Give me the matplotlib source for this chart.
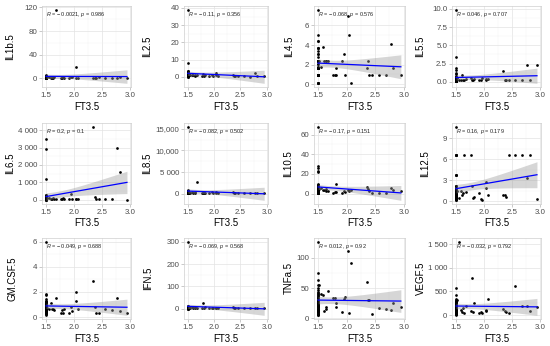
import numpy as np
import matplotlib.pyplot as plt

plt.rcParams['font.family'] = ['Liberation Sans', 'DejaVu Sans']
plt.rcParams['mathtext.fontset'] = 'custom'
plt.rcParams['mathtext.rm'] = 'Liberation Sans'
plt.rcParams['mathtext.it'] = 'Liberation Sans:italic'

# FT3 values (shared by all panels): 44 samples at the minimum, then the rest
ft3 = [1.5, 1.5, 1.5, 1.5, 1.5, 1.5, 1.5, 1.5, 1.5, 1.5, 1.5,
       1.5, 1.5, 1.5, 1.5, 1.5, 1.5, 1.5, 1.5, 1.5, 1.5, 1.5,
       1.5, 1.5, 1.5, 1.5, 1.5, 1.5, 1.5, 1.5, 1.5, 1.5, 1.5,
       1.5, 1.5, 1.5, 1.5, 1.5, 1.5, 1.5, 1.5, 1.5, 1.5, 1.5,
       1.52, 1.55, 1.58, 1.6, 1.63, 1.64, 1.68, 1.76, 1.79, 1.81, 1.82, 1.91, 1.95,
       1.97, 2.03, 2.04, 2.07, 2.35, 2.38, 2.39, 2.45, 2.56, 2.69, 2.78, 2.82, 2.95]

il1b = [0.5, 1.0, 1.5, 2.0, 2.5, 3.0, 4.0, 5.0, 0.2, 0.8, 1.2,
        2.2, 3.5, 1.0, 0.5, 2.0, 1.5, 0.3, 0.7, 1.8, 4.5, 2.8,
        0.4, 1.1, 1.6, 0.9, 2.4, 0.6, 1.3, 3.2, 0.2, 1.9, 0.8,
        1.4, 2.6, 0.5, 1.0, 0.3, 2.1, 1.7, 0.6, 1.2, 3.8, 0.9,
        2.0, 3.0, 1.0, 1.0, 0.5, 2.0, 116.0, 1.0, 0.5, 2.0, 1.0, 0.5, 2.0,
        3.0, 20.0, 1.0, 1.0, 1.0, 0.5, 1.0, 2.0, 1.0, 1.0, 1.0, 2.0, 0.5]
il2 = [39.0, 8.0, 3.5, 3.0, 2.5, 2.0, 1.8, 1.5, 1.2, 1.0, 0.8,
       0.5, 0.3, 2.2, 1.6, 1.1, 0.7, 0.4, 2.8, 1.9, 1.3, 0.9,
       0.6, 0.2, 1.4, 1.0, 3.2, 0.5, 1.7, 0.8, 1.2, 0.3, 2.4,
       1.0, 0.6, 1.5, 0.4, 0.9, 2.0, 1.1, 0.7, 1.3, 0.2, 0.8,
       1.5, 1.0, 1.2, 1.0, 0.8, 1.2, 1.0, 0.5, 1.5, 0.5, 1.0, 0.8, 1.2,
       0.5, 2.5, 1.0, 0.5, 1.0, 0.8, 0.5, 0.3, 0.5, 0.2, 2.5, 0.5, 0.5]
il4 = [7.6, 5.0, 4.4, 4.4, 3.7, 3.7, 3.4, 3.1, 3.1, 2.8, 2.4,
       2.4, 2.4, 2.4, 2.4, 2.1, 2.1, 1.8, 1.8, 1.7, 1.7, 1.7,
       1.7, 1.7, 0.9, 0.9, 0.9, 0.9, 0.9, 0.9, 0.9, 0.9, 0.1,
       0.1, 0.1, 0.1, 1.7, 2.4, 0.9, 1.7, 2.4, 3.7, 1.7, 0.9,
       2.4, 1.8, 3.8, 2.4, 2.4, 2.4, 2.4, 0.9, 0.9, 0.9, 1.7, 2.4, 3.1,
       0.9, 7.0, 5.0, 0.1, 1.7, 2.4, 0.9, 0.9, 0.9, 0.9, 4.1, 1.7, 0.9]
il5 = [9.9, 3.4, 1.9, 1.6, 1.2, 1.0, 0.8, 0.6, 0.5, 0.4, 0.3,
       0.2, 0.1, 0.3, 0.2, 0.4, 0.1, 0.2, 0.3, 0.1, 0.2, 0.5,
       0.1, 0.2, 0.3, 0.2, 0.1, 0.4, 0.2, 0.1, 0.3, 0.2, 0.1,
       0.2, 0.6, 0.1, 0.2, 0.3, 0.1, 0.2, 0.4, 0.1, 0.2, 0.3,
       0.5, 0.3, 0.2, 0.9, 0.3, 0.2, 0.4, 0.5, 0.3, 0.2, 0.4, 0.3, 0.2,
       0.5, 0.3, 0.4, 0.4, 1.5, 0.3, 0.2, 0.3, 0.2, 0.2, 2.3, 0.2, 2.3]
il6 = [3500, 2900, 1200, 300, 250, 200, 180, 150, 120, 100, 90,
       80, 60, 50, 40, 30, 20, 10, 150, 120, 80, 60,
       40, 30, 20, 10, 200, 100, 50, 30, 70, 90, 110,
       40, 20, 60, 130, 80, 50, 30, 10, 70, 40, 20,
       100, 80, 60, 50, 90, 40, 70, 60, 30, 80, 50, 40, 350,
       30, 60, 40, 50, 4200, 150, 40, 30, 20, 50, 2950, 1600, 10]
il8 = [15500, 800, 700, 600, 500, 450, 400, 350, 300, 300, 250,
       250, 200, 200, 150, 150, 100, 100, 50, 50, 400, 350,
       300, 250, 200, 150, 100, 600, 500, 300, 200, 100, 250,
       350, 150, 450, 200, 100, 300, 250, 50, 150, 200, 100,
       300, 200, 400, 250, 150, 300, 2800, 100, 200, 150, 250, 100, 300,
       150, 200, 350, 100, 400, 150, 250, 100, 150, 100, 200, 150, 50]
il10 = [68, 28, 26, 23, 22, 10, 9, 8, 7, 6, 5,
        4, 3, 2, 1, 0.5, 8, 6, 4, 3, 2, 1,
        7, 5, 3, 2, 1, 9, 6, 4, 2, 0.5, 5,
        3, 1, 7, 4, 2, 6, 3, 1, 5, 2, 4,
        5, 6, 4, 3.5, 4.5, 3, 2.4, 1, 1.5, 2, 9.4, 1, 2.4,
        1.5, 3.5, 3, 3.5, 6.5, 4.5, 2.4, 1, 1, 1, 6, 3.5, 2.4]
il12 = [10.7, 6.6, 6.6, 6.6, 6.6, 3.8, 3.8, 3.8, 2.1, 2.1, 2.1,
        1.9, 1.7, 1.5, 1.3, 1.1, 1.0, 0.9, 0.8, 0.7, 0.6, 0.5,
        0.4, 0.3, 0.2, 0.1, 1.2, 0.9, 0.6, 0.4, 1.4, 0.8, 0.5,
        0.3, 1.0, 0.7, 1.6, 0.4, 0.9, 0.6, 1.1, 0.5, 0.8, 1.0,
        1.4, 0.5, 1.4, 0.8, 1.1, 6.6, 1.25, 6.6, 2.1, 0.4, 0.6, 1.1, 0.3,
        0.15, 2.8, 1.9, 0.85, 0.85, 0.85, 0.6, 6.6, 6.6, 6.6, 3.3, 6.6, 0.3]
gmcsf = [6.0, 1.85, 1.75, 1.4, 1.3, 1.2, 1.1, 1.0, 0.9, 0.8, 0.7,
         0.6, 0.5, 0.4, 0.3, 0.2, 1.25, 1.15, 1.05, 0.95, 0.85, 0.75,
         0.65, 0.55, 0.45, 0.35, 0.25, 1.0, 0.8, 0.6, 0.4, 0.9, 0.7,
         0.5, 0.3, 1.1, 0.6, 0.8, 0.4, 1.2, 0.7, 0.5, 0.9, 0.3,
         0.7, 0.6, 1.1, 0.6, 0.63, 0.58, 1.5, 0.3, 0.58, 0.3, 0.63, 0.3, 0.8,
         0.45, 2.0, 1.3, 0.65, 2.9, 0.8, 0.3, 0.35, 0.65, 0.55, 1.5, 0.45, 0.3]
ifn = [300, 15, 12, 10, 9, 8, 7, 6, 5, 4, 3,
       2, 1, 8, 6, 4, 2, 10, 7, 5, 3, 1,
       6, 4, 2, 9, 5, 3, 7, 4, 2, 6, 8,
       3, 5, 1, 4, 6, 2, 5, 3, 7, 4, 2,
       8, 5, 10, 6, 8, 4, 6, 5, 27, 4, 8, 3, 6,
       4, 5, 6, 3, 8, 4, 3, 2, 3, 2, 6, 3, 2]
tnfa = [127, 75, 64, 55, 50, 47, 44, 40, 37, 34, 31,
        28, 25, 22, 20, 18, 16, 14, 12, 10, 8, 6,
        5, 30, 26, 24, 19, 15, 11, 9, 35, 27, 21,
        17, 13, 7, 33, 23, 29, 38, 42, 12, 20, 16,
        56, 40, 38, 12, 15, 19, 45, 33, 33, 25, 19, 11, 32,
        35, 111, 9, 92, 60, 31, 30, 8, 17, 16, 13, 26, 18]
vegf = [580, 430, 350, 320, 300, 280, 260, 240, 220, 200, 180,
        160, 140, 120, 100, 80, 60, 40, 20, 10, 300, 250,
        200, 150, 100, 50, 30, 270, 190, 130, 90, 70, 110,
        210, 170, 60, 140, 80, 230, 120, 50, 90, 160, 30,
        320, 1550, 100, 70, 140, 50, 190, 85, 780, 70, 260, 50, 70,
        40, 100, 90, 350, 120, 85, 60, 50, 620, 190, 190, 90, 180]

names = ['IL1b.5', 'IL2.5', 'IL4.5', 'IL5.5', 'IL6.5', 'IL8.5',
         'IL10.5', 'IL12.5', 'GM.CSF.5', 'IFN.5', 'TNFa.5', 'VEGF.5']
series = [il1b, il2, il4, il5, il6, il8, il10, il12, gmcsf, ifn, tnfa, vegf]
stats = ['R = − 0.0021, p = 0.986', 'R = − 0.11, p = 0.356', 'R = − 0.068, p = 0.576',
         'R = 0.046, p = 0.707', 'R = 0.2, p = 0.1', 'R = − 0.082, p = 0.502',
         'R = − 0.17, p = 0.151', 'R = 0.16, p = 0.179', 'R = − 0.049, p = 0.688',
         'R = − 0.069, p = 0.568', 'R = 0.012, p = 0.92', 'R = − 0.032, p = 0.792']
yticks = [[0, 40, 80, 120], [0, 10, 20, 30, 40], [0, 2, 4, 6], [0, 2.5, 5, 7.5, 10],
          [0, 1000, 2000, 3000, 4000], [0, 5000, 10000, 15000], [0, 20, 40, 60], [0, 3, 6, 9],
          [0, 2, 4, 6], [0, 100, 200, 300], [0, 50, 100], [0, 500, 1000, 1500]]
ytick_labels = [['0', '40', '80', '120'], ['0', '10', '20', '30', '40'], ['0', '2', '4', '6'],
                ['0.0', '2.5', '5.0', '7.5', '10.0'],
                ['0', '1 000', '2 000', '3 000', '4 000'], ['0', '5 000', '10,000', '15,000'],
                ['0', '20', '40', '60'], ['0', '3', '6', '9'], ['0', '2', '4', '6'],
                ['0', '100', '200', '300'], ['0', '50', '100'], ['0', '500', '1 000', '1 500']]
xticks = [1.5, 2.0, 2.5, 3.0]
xtick_labels = ['1.5', '2.0', '2.5', '3.0']

T975 = 1.995  # t quantile, df = 68

# layout in pixels
W, H = 550, 346
rows = [(6, 87, 107), (123, 204, 223), (238, 319, 339)]   # top, bottom, xlabel y
cols = [(42, 131), (184, 268), (314, 405), (452, 541)]
ylab_x = [10, 147, 289, 420, 10, 147, 288, 425, 13, 148, 289, 421]

fig = plt.figure(figsize=(W / 100, H / 100), dpi=100)
x = np.array(ft3, dtype=float)

for i, (name, yv) in enumerate(zip(names, series)):
    y = np.array(yv, dtype=float)
    if len(y) != len(x):
        raise ValueError(f"{name}: {len(y)} values")
    top, bot, xl_y = rows[i // 4]
    left, right = cols[i % 4]
    ax = fig.add_axes([left / W, 1 - bot / H, (right - left) / W, (bot - top) / H])

    # linear fit with 95% confidence band
    b, a = np.polyfit(x, y, 1)
    n = len(x)
    s = np.sqrt(np.sum((y - (a + b * x)) ** 2) / (n - 2))
    sxx = np.sum((x - x.mean()) ** 2)
    xs = np.linspace(x.min(), x.max(), 80)
    fit = a + b * xs
    se = s * np.sqrt(1 / n + (xs - x.mean()) ** 2 / sxx)
    lo, hi = fit - T975 * se, fit + T975 * se

    ax.scatter(x, y, s=3.8, color='black', linewidths=0, zorder=3)
    ax.fill_between(xs, lo, hi, color='#999999', alpha=0.4, linewidth=0, zorder=4)
    ax.plot(xs, fit, color='blue', lw=0.9, zorder=5)

    ax.text(x.min(), y.max(), stats[i].replace('R', '$R$').replace('p =', '$p$ ='),
            fontsize=4, ha='left', va='top', color='#222222', zorder=6)

    xpad = 0.05 * (x.max() - x.min())
    ax.set_xlim(x.min() - xpad, x.max() + xpad)
    ymin, ymax = min(y.min(), lo.min()), max(y.max(), hi.max())
    ypad = 0.05 * (ymax - ymin)
    ax.set_ylim(ymin - ypad, ymax + ypad)

    ax.set_xticks(xticks)
    ax.set_xticklabels(xtick_labels)
    ax.set_xticks([1.75, 2.25, 2.75], minor=True)
    yt = yticks[i]
    ax.set_yticks(yt)
    ax.set_yticklabels(ytick_labels[i])
    ax.set_yticks([(yt[k] + yt[k + 1]) / 2 for k in range(len(yt) - 1)], minor=True)

    ax.grid(True, which='major', color='#e3e3e3', lw=0.5)
    ax.grid(True, which='minor', color='#f1f1f1', lw=0.3)
    ax.set_axisbelow(True)
    for sp in ax.spines.values():
        sp.set_color('#cfcfcf')
        sp.set_linewidth(0.5)
    ax.tick_params(which='major', length=2, width=0.5, color='#b3b3b3',
                   labelsize=5.7, labelcolor='#4d4d4d', pad=1.5)
    ax.tick_params(which='minor', length=0)

    ax.set_xlabel('FT3.5', fontsize=7)
    ax.xaxis.set_label_coords(0.5, -(xl_y - bot) / (bot - top))
    ax.xaxis.label.set_va('center')
    ax.set_ylabel(name, fontsize=7)
    ax.yaxis.set_label_coords((ylab_x[i] - left) / (right - left), 0.5)
    ax.yaxis.label.set_va('center')

fig.savefig('out.png', dpi=100)
